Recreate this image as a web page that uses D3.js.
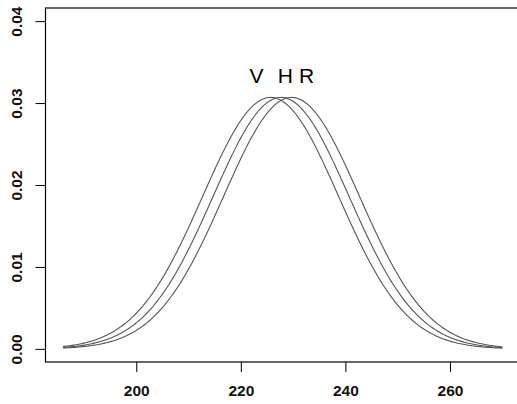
<!DOCTYPE html>
<html><head><meta charset="utf-8">
<script src="https://cdn.jsdelivr.net/npm/d3@7"></script>
<style>
body{margin:0;background:#fff;}
text{font-family:"Liberation Sans",Arial,Helvetica,sans-serif;}
</style></head>
<body><svg id="c" width="517" height="404"></svg>
<script>
// Series: normal density curves (mean, sd)
const seriesNames = ["V", "H", "R"];
const seriesMeans = [225.7, 227.7, 229.7];
const seriesSd = [13, 13, 13];
const xRange = [186, 270];
const xTicks = [200, 220, 240, 260];
const yTicks = [0.00, 0.01, 0.02, 0.03, 0.04];
const yTickLabels = ["0.00", "0.01", "0.02", "0.03", "0.04"];
const labelX = [223.0, 228.5, 232.6];   // data x of the V H R labels
const labelY = 0.0325;

const svg = d3.select("#c");
const x = d3.scaleLinear().domain([182.64, 273.36]).range([45.5, 519.8]);
const y = d3.scaleLinear().domain([-0.0016, 0.0416]).range([362, 8]);

function dnorm(v, m, s){ return Math.exp(-0.5*((v-m)/s)**2)/(s*Math.sqrt(2*Math.PI)); }

// box
svg.append("rect").attr("x", x.range()[0]).attr("y", 8)
  .attr("width", x.range()[1]-x.range()[0]).attr("height", 354)
  .attr("fill","none").attr("stroke","#000").attr("stroke-width",1.2);

// x axis
const xa = svg.append("g").attr("transform","translate(0,362)")
  .call(d3.axisBottom(x).tickValues(xTicks).tickSize(10).tickPadding(0).tickFormat(d3.format("d")));
xa.select(".domain").remove();
xa.selectAll("text").attr("font-size",15.5).attr("font-weight",600).attr("fill","#111")
  .attr("font-family","Liberation Sans, Arial, sans-serif")
  .attr("y", 28).attr("dy", 0).attr("dominant-baseline","central");
xa.selectAll("line").attr("stroke","#000");

// y axis
const ya = svg.append("g").attr("transform","translate(45.5,0)")
  .call(d3.axisLeft(y).tickValues(yTicks).tickSize(10).tickFormat((d,i)=>yTickLabels[i]));
ya.select(".domain").remove();
ya.selectAll("line").attr("stroke","#000");
ya.selectAll("text").attr("font-size",15.5).attr("font-weight",600).attr("fill","#111")
  .attr("font-family","Liberation Sans, Arial, sans-serif")
  .attr("text-anchor","middle").attr("x",0).attr("dy",0)
  .attr("transform","translate(-29.5,0) rotate(-90)").attr("dominant-baseline","central");

// curves
const grid = d3.range(xRange[0], xRange[1]+0.001, 0.25);
const line = d3.line().x(d=>x(d[0])).y(d=>y(d[1]));
seriesMeans.forEach((m,i)=>{
  svg.append("path").datum(grid.map(v=>[v, dnorm(v,m,seriesSd[i])]))
    .attr("d", line).attr("fill","none").attr("stroke","#555").attr("stroke-width",1.1);
});

// labels
seriesNames.forEach((n,i)=>{
  svg.append("text").attr("x", x(labelX[i])).attr("y", y(labelY))
    .attr("text-anchor","middle").attr("font-size",21).attr("fill","#000").text(n);
});
</script></body></html>
